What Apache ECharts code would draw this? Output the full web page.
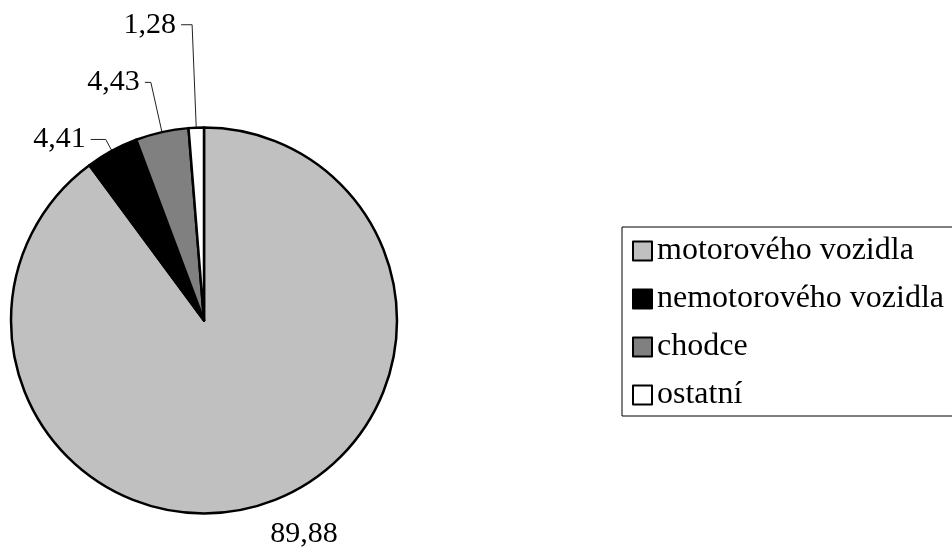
<!DOCTYPE html>
<html>
<head>
<meta charset="utf-8">
<script src="https://cdn.jsdelivr.net/npm/echarts@6/dist/echarts.min.js"></script>
<style>
  html, body { margin: 0; padding: 0; background: #fff; }
  #chart { width: 952px; height: 552px; }
</style>
</head>
<body>
<div id="chart"></div>
<script>
// Share of accidents by cause (percent)
const categories = ['motorového vozidla', 'nemotorového vozidla', 'chodce', 'ostatní'];
const values = [89.88, 4.41, 4.43, 1.28];
const sliceColors = ['#c0c0c0', '#000000', '#808080', '#ffffff'];
// leader line lengths per slice: [radial, horizontal]
const leaderLengths = [[32, -9], [13, 15], [51, 6], [103, 11]];

const FONT = '"Liberation Serif", "Times New Roman", serif';

const chart = echarts.init(document.getElementById('chart'), null, { renderer: 'canvas' });

const pieData = categories.map((name, i) => ({
  name: name,
  value: values[i],
  itemStyle: { color: sliceColors[i] },
  labelLine: {
    show: i !== 0,
    length: leaderLengths[i][0],
    length2: leaderLengths[i][1]
  }
}));

chart.setOption({
  animation: false,
  backgroundColor: '#ffffff',
  legend: {
    orient: 'vertical',
    left: 622,
    top: 227,
    padding: [8, 40, 5, 10],
    borderColor: '#000',
    borderWidth: 1,
    itemWidth: 19,
    itemHeight: 19,
    itemGap: 16,
    icon: 'rect',
    selectedMode: false,
    itemStyle: { borderColor: '#000', borderWidth: 2 },
    textStyle: { fontFamily: FONT, fontSize: 32, color: '#000' },
    data: categories
  },
  series: [{
    type: 'pie',
    center: [204, 320.5],
    radius: 193,
    startAngle: 90,
    clockwise: true,
    avoidLabelOverlap: false,
    silent: true,
    itemStyle: { borderColor: '#000', borderWidth: 2.5 },
    label: {
      show: true,
      position: 'outside',
      fontFamily: FONT,
      fontSize: 30,
      color: '#000',
      formatter: p => p.value.toFixed(2).replace('.', ',')
    },
    labelLine: {
      lineStyle: { color: '#222', width: 1 },
      smooth: false
    },
    emphasis: { disabled: true },
    data: pieData
  }]
});
</script>
</body>
</html>
